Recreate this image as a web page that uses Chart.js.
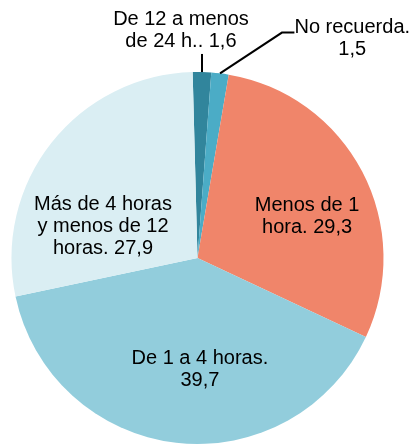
<!DOCTYPE html>
<html>
<head>
<meta charset="utf-8">
<script src="https://cdn.jsdelivr.net/npm/chart.js@4/dist/chart.umd.min.js"></script>
<style>
  html, body { margin: 0; padding: 0; background: #fff; }
  #wrap { width: 412px; height: 445px; }
</style>
</head>
<body>
<div id="wrap"><canvas id="chart" width="412" height="445"></canvas></div>
<script>
// datos (orden horario desde arriba)
const categories = [
  "De 12 a menos de 24 h.",
  "No recuerda",
  "Menos de 1 hora",
  "De 1 a 4 horas",
  "Más de 4 horas y menos de 12 horas"
];
const values = [1.6, 1.5, 29.3, 39.7, 27.9];
const colors = ["#31859C", "#4BACC6", "#F0856A", "#92CDDC", "#DAEEF3"];

// texto de cada etiqueta, {v} = valor
const labelLines = [
  ["De 12 a menos", "de 24 h.. {v}"],
  ["No recuerda.", "{v}"],
  ["Menos de 1", "hora. {v}"],
  ["De 1 a 4 horas.", "{v}"],
  ["Más de 4 horas", "y menos de 12", "horas. {v}"]
];

// posicion del centro de cada etiqueta, en unidades del radio
const labelPos = [
  [-0.089, -1.222],
  [0.832, -1.180],
  [0.589, -0.222],
  [0.013, 0.600],
  [-0.508, -0.170]
];

// lineas guia: puntos intermedios en unidades del radio (desde el borde del sector)
const leaders = {
  0: [[null, -1.097]],
  1: [[0.454, -1.212], [0.521, -1.212]]
};

const LINE_H = 22;
const FONT = "20px 'Liberation Sans', Arial, sans-serif";

function fmt(v) {
  return v.toFixed(1).replace(".", ",");
}

const labelPlugin = {
  id: "pieLabels",
  afterDatasetsDraw(chart) {
    const ctx = chart.ctx;
    const meta = chart.getDatasetMeta(0);
    ctx.save();
    ctx.font = FONT;
    ctx.fillStyle = "#000";
    ctx.textAlign = "center";
    ctx.textBaseline = "middle";

    meta.data.forEach((arc, i) => {
      const r = arc.outerRadius;
      const cx = arc.x;
      const cy = arc.y;

      // linea guia
      if (leaders[i]) {
        const mid = (arc.startAngle + arc.endAngle) / 2;
        const sx = cx + Math.cos(mid) * r;
        const sy = cy + Math.sin(mid) * r;
        ctx.beginPath();
        ctx.strokeStyle = "#000";
        ctx.lineWidth = 2;
        ctx.moveTo(sx, sy);
        leaders[i].forEach(([fx, fy]) => {
          const px = fx === null ? sx : cx + fx * r;
          ctx.lineTo(px, cy + fy * r);
        });
        ctx.stroke();
      }

      const lines = labelLines[i].map((l) => l.replace("{v}", fmt(values[i])));
      const lx = cx + labelPos[i][0] * r;
      const ly = cy + labelPos[i][1] * r;
      const top = ly - ((lines.length - 1) * LINE_H) / 2;
      lines.forEach((l, k) => {
        ctx.fillText(l, lx, top + k * LINE_H);
      });
    });
    ctx.restore();
  }
};

new Chart(document.getElementById("chart").getContext("2d"), {
  type: "pie",
  data: {
    labels: categories,
    datasets: [
      {
        data: values,
        backgroundColor: colors,
        borderWidth: 0
      }
    ]
  },
  options: {
    responsive: false,
    devicePixelRatio: 1,
    animation: false,
    rotation: -1.5,
    layout: {
      padding: { left: 11.5, right: 28.5, top: 72, bottom: 1 }
    },
    plugins: {
      legend: { display: false },
      tooltip: { enabled: false }
    }
  },
  plugins: [labelPlugin]
});
</script>
</body>
</html>
